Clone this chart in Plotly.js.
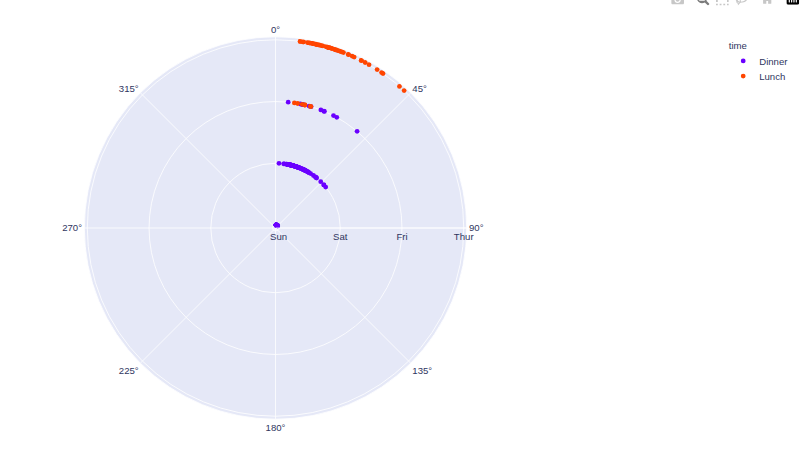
<!DOCTYPE html>
<html><head><meta charset="utf-8">
<script src="https://cdn.plot.ly/plotly-3.0.1.min.js"></script>
<style>html,body{margin:0;padding:0;overflow:hidden;background:#fff;height:453px;width:800px}#g{position:absolute;left:0;top:-12px;transform:scale(0.8);transform-origin:0 0}.modebar-container{transform:translateX(5px)}.plotlyjsicon .cls-0{fill:#3f4f75 !important}</style>
</head><body><div id="g"></div>
<script>
const days = ['Sun','Sat','Fri','Thur'];
const sunDinner = [16.99,10.34,21.01,23.68,24.59,25.29,8.77,26.88,15.04,14.78,10.27,35.26,15.42,18.43,14.83,21.58,10.33,16.29,16.97,17.46,13.94,9.68,30.40,18.29,22.23,32.40,28.55,18.04,12.54,10.29,34.81,9.94,25.56,19.49,38.07,23.95,25.71,17.31,29.93,14.07,13.13,17.26,24.55,19.77,29.85,48.17,25.00,13.39,16.49,21.50,12.66,16.21,13.81,17.51,24.52,20.76,31.71,7.25,31.85,16.82,32.90,17.89,14.48,9.60,34.63,34.65,23.33,45.35,23.17,40.55,20.69,20.90,30.46,18.15,23.10,15.69];
const satDinner = [20.65,17.92,20.29,15.77,39.42,19.82,17.81,13.37,12.69,21.70,19.65,9.55,18.35,15.06,20.69,17.78,24.06,16.31,16.93,18.69,31.27,16.04,38.01,26.41,11.24,48.27,20.29,13.81,11.02,18.29,17.59,20.08,16.45,3.07,20.23,15.01,12.02,17.07,26.86,25.28,14.73,10.51,17.92,44.30,22.42,20.92,15.36,20.49,25.21,18.24,14.31,14.00,7.25,10.59,10.63,50.81,15.81,26.59,38.73,24.27,12.76,30.06,25.89,48.33,13.27,28.17,12.90,28.15,11.59,7.74,30.14,20.45,13.28,22.12,24.01,15.69,11.61,10.77,15.53,10.07,12.60,32.83,35.83,29.03,27.18,22.67,17.82];
const friDinner = [28.97,22.49,5.75,16.32,22.75,40.17,27.28,12.03,21.01,12.46,11.35,15.38];
const thurDinner = [18.78];
const thurLunch = [27.20,22.76,17.29,19.44,16.66,10.07,32.68,15.98,34.83,13.03,18.28,24.71,21.16,10.65,12.43,24.08,11.69,13.42,14.26,15.95,12.48,29.80,8.52,14.52,11.38,22.82,19.08,20.27,11.17,12.26,18.26,8.51,10.33,14.15,16.00,13.16,17.47,34.30,41.19,27.05,16.43,8.35,18.64,11.87,9.78,7.51,19.81,28.44,15.48,16.58,7.56,10.34,43.11,13.00,13.51,18.71,12.74,13.00,16.40,20.53,16.47];
const friLunch = [12.16,13.42,8.58,15.98,13.42,16.27,10.09];
const dinnerColor = '#6a00ff', lunchColor = '#ff4500';
const textColor = '#2f3560', fontFamily = '"Liberation Sans", Arial, sans-serif';
const dinnerGroups = [['Sun',sunDinner],['Sat',satDinner],['Fri',friDinner],['Thur',thurDinner]];
const lunchGroups = [['Thur',thurLunch],['Fri',friLunch]];
function trace(name, color, groups){
  return {type:'scatterpolar', mode:'markers', name:name, showlegend:true, subplot:'polar',
    r:groups.flatMap(g=>g[1].map(()=>g[0])), theta:groups.flatMap(g=>g[1]),
    marker:{color:color,size:6,symbol:'circle'}};
}
const tickfont = {family:fontFamily,size:12,color:textColor};
const layout = {
  width:1000, height:581, autosize:false,
  paper_bgcolor:'#fff',
  font:{family:fontFamily, size:12, color:textColor},
  margin:{l:0,r:0,t:61,b:42},
  polar:{
    domain:{x:[0.1054,0.5834],y:[0,1]},
    bgcolor:'#E5E8F7',
    angularaxis:{direction:'clockwise',rotation:90,gridcolor:'white',linecolor:'white',ticks:'',tickfont:tickfont},
    radialaxis:{type:'category',categoryorder:'array',categoryarray:days,gridcolor:'white',linecolor:'white',ticks:'',tickfont:tickfont}
  },
  legend:{title:{text:'time',font:{family:fontFamily,size:12,color:textColor}},x:0.909,xanchor:'left',y:1,yanchor:'top',tracegroupgap:0,font:tickfont}
};
Plotly.newPlot('g',[trace('Dinner',dinnerColor,dinnerGroups),trace('Lunch',lunchColor,lunchGroups)],layout,{displayModeBar:true,responsive:false,modeBarButtonsToAdd:[{name:'Reset',icon:Plotly.Icons.home,click:function(){}}]});
</script></body></html>
